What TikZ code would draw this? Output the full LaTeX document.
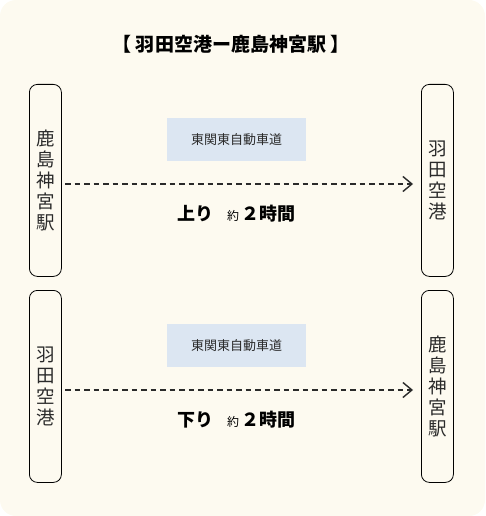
\documentclass[tikz,border=0pt]{standalone}
\usepackage{fontspec}
\setmainfont{Noto Sans CJK JP}
\usetikzlibrary{arrows.meta}
\definecolor{bgcream}{HTML}{FDFAF0}
\definecolor{roadblue}{HTML}{DCE6F2}
\definecolor{inkgray}{HTML}{2A2A2A}
\tikzset{
  x=1pt,y=-1pt,
  stationbox/.style={draw=black,line width=0.8pt,rounded corners=8pt,minimum width=32pt,minimum height=192pt,anchor=north west,inner sep=0pt,
    font=\fontsize{18.5}{21}\selectfont,align=center,text=inkgray},
  roadbox/.style={fill=roadblue,minimum width=139pt,minimum height=43pt,anchor=north west,inner sep=0pt,font=\fontsize{13}{15}\selectfont,text=inkgray},
  route/.style={dashed,dash pattern=on 5.5pt off 4pt,line width=1.1pt,draw=inkgray,-{Straight Barb[length=9pt,width=15pt,line width=1.4pt]}},
  timelabel/.style={font=\bfseries\fontsize{18}{20}\selectfont,inner sep=0pt,text=black}
}
\begin{document}
\begin{tikzpicture}
\useasboundingbox (0,0) rectangle (485,516);
\fill[bgcream,rounded corners=16pt] (0,0) rectangle (485,516);
\node[font=\bfseries\fontsize{19}{21}\selectfont,inner sep=0pt] (title) at (231,44) {【 羽田空港ー鹿島神宮駅 】};
% upper route
\node[stationbox] (a1) at (29,84) {鹿\\島\\神\\宮\\駅};
\node[stationbox] (b1) at (421,84) {羽\\田\\空\\港};
\node[roadbox] (r1) at (167,118) {東関東自動車道};
\coordinate (s1) at (65,184);
\coordinate (e1) at (413,184);
\draw[route] (s1) -- (e1);
\node[timelabel] (t1) at (236,214) {上り\hspace{14pt}{\mdseries\fontsize{12}{14}\selectfont 約}\hspace{2pt}２時間};
% lower route
\node[stationbox] (a2) at (29,290) {羽\\田\\空\\港};
\node[stationbox] (b2) at (421,290) {鹿\\島\\神\\宮\\駅};
\node[roadbox] (r2) at (167,324) {東関東自動車道};
\coordinate (s2) at (65,390);
\coordinate (e2) at (413,390);
\draw[route] (s2) -- (e2);
\node[timelabel] (t2) at (236,420) {下り\hspace{14pt}{\mdseries\fontsize{12}{14}\selectfont 約}\hspace{2pt}２時間};
\end{tikzpicture}
\end{document}
